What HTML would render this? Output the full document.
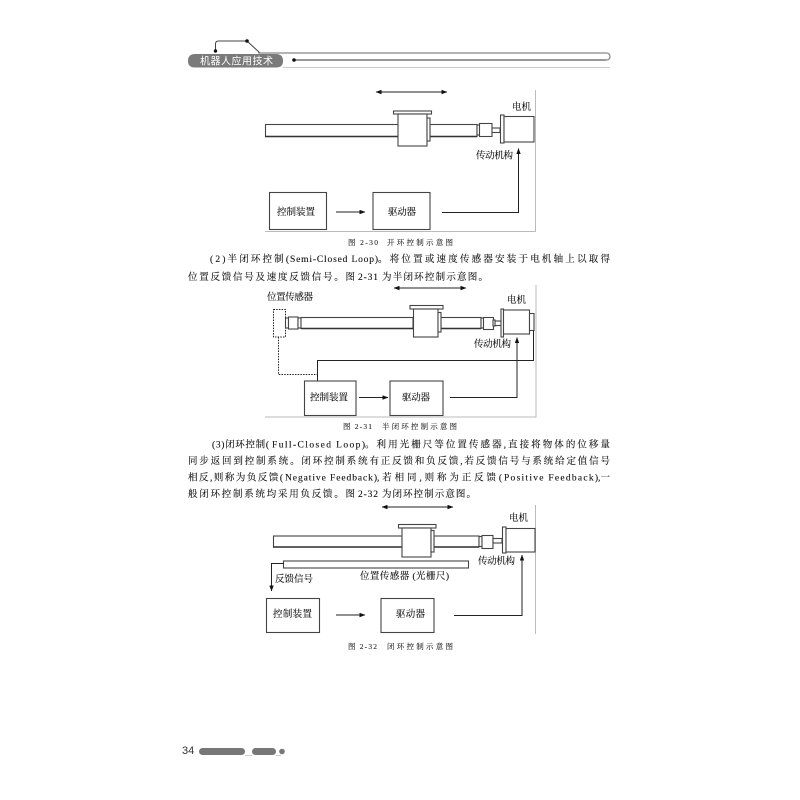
<!DOCTYPE html>
<html>
<head>
<meta charset="utf-8">
<style>
html,body{margin:0;padding:0;background:#fff;width:800px;height:800px;overflow:hidden}
svg{display:block;filter:blur(.35px)}
text{font-family:"Liberation Serif","Noto Serif CJK SC",serif;fill:#222}
.b{font-size:9.5px;fill:#111;stroke:#111;stroke-width:.12}
.c{font-size:7.5px;fill:#222;stroke:#222;stroke-width:.08}
.l{font-size:9.5px;fill:#111;stroke:#111;stroke-width:.12}
.s{fill:#fff;stroke:#444;stroke-width:1.1}
.e{stroke:#bbb;stroke-width:1;fill:none}
.n{fill:none;stroke:#222;stroke-width:1}
.d{fill:none;stroke:#222;stroke-width:1;stroke-dasharray:1.5 1.2}
.k{fill:none;stroke:#333;stroke-width:1.4}
</style>
</head>
<body>
<svg xmlns="http://www.w3.org/2000/svg" width="800" height="800" viewBox="0 0 800 800">
<defs>
<marker id="a" viewBox="0 0 8 6" refX="7.5" refY="3" markerWidth="6" markerHeight="4.5" orient="auto-start-reverse" markerUnits="userSpaceOnUse"><path d="M0 0L8 3L0 6Z" fill="#111"/></marker>
</defs>
<rect width="800" height="800" fill="#fff"/>

<!-- header -->
<path d="M215.5 51V44Q215.5 41 218.5 41H247L260 53" fill="none" stroke="#444" stroke-width="1"/>
<circle cx="215.5" cy="51" r="1.7" fill="#111"/>
<circle cx="247" cy="41" r="1.8" fill="#111"/>
<path d="M258 53H606Q610 53 610 56.5Q610 60 606 60" fill="none" stroke="#888" stroke-width="1.2"/>
<path d="M294 60H606" stroke="#333" stroke-width="1"/>
<circle cx="294" cy="60" r="1.8" fill="#111"/>
<path d="M283 67.5H610" stroke="#ccc" stroke-width="1"/>
<path d="M195 54H276Q283 54 283 61Q283 67.5 276 67.5H195Q188 67.5 188 61Q188 54 195 54Z" fill="#7a7a7a"/>
<text x="200" y="64.5" font-size="10" textLength="73" lengthAdjust="spacing" style="font-family:'Liberation Sans','Noto Sans CJK SC',sans-serif;fill:#fff">机器人应用技术</text>

<!-- diagram 2-30 -->
<path class="e" d="M535.5 90V231.5H265"/>
<path class="n" d="M376 92H447" marker-start="url(#a)" marker-end="url(#a)"/>
<rect class="s" x="265.5" y="124.5" width="133" height="12"/>
<rect class="s" x="430" y="124.5" width="47" height="12"/>
<path class="k" d="M265 136.5H398M430 136.5H477"/>
<rect class="s" x="393.5" y="111" width="38" height="3"/>
<rect class="s" x="398" y="114" width="29" height="32"/>
<rect class="s" x="427" y="118" width="3" height="23"/>
<rect class="s" x="477" y="125" width="2.5" height="10"/>
<rect class="s" x="479.5" y="123.5" width="12.5" height="13"/>
<rect class="s" x="492" y="128" width="8" height="4.5"/>
<rect class="s" x="500.5" y="115" width="3.5" height="28"/>
<rect class="s" x="504" y="116.5" width="30" height="25.5"/>
<text class="l" x="512" y="110" textLength="19">电机</text>
<text class="l" x="476" y="158.5" textLength="37">传动机构</text>
<rect class="s" x="269.5" y="192.5" width="57" height="37"/>
<rect class="s" x="373" y="192.5" width="57" height="37"/>
<text class="l" x="277" y="215" textLength="38">控制装置</text>
<text class="l" x="388" y="215" textLength="28">驱动器</text>
<path class="n" d="M336 212H365" marker-end="url(#a)"/>
<path class="n" d="M442 212.5H518.5V148.5" marker-end="url(#a)"/>
<text class="c" x="348" y="245" textLength="30">图 2-30</text>
<text class="c" x="387" y="245" textLength="66">开环控制示意图</text>

<!-- para 2 -->
<text class="b" x="210" y="262" textLength="79" lengthAdjust="spacing">(2)半闭环控制(</text>
<text class="b" x="290" y="262" textLength="88" lengthAdjust="spacing">Semi-Closed Loop)</text>
<text class="b" x="378" y="262" textLength="232" lengthAdjust="spacing">。将位置或速度传感器安装于电机轴上以取得</text>
<text class="b" x="188" y="280" textLength="167" lengthAdjust="spacing">位置反馈信号及速度反馈信号。图</text>
<text class="b" x="358" y="280" textLength="20" lengthAdjust="spacing">2-31</text>
<text class="b" x="382" y="280" textLength="106" lengthAdjust="spacing">为半闭环控制示意图。</text>

<!-- diagram 2-31 -->
<path class="e" d="M536 285V417H265"/>
<path class="n" d="M394 288H466" marker-start="url(#a)" marker-end="url(#a)"/>
<text class="l" x="267" y="300" textLength="46">位置传感器</text>
<text class="l" x="507" y="303" textLength="19">电机</text>
<rect class="d" x="273.5" y="309.5" width="12" height="27.5"/>
<rect class="s" x="285.5" y="318" width="3" height="10"/>
<rect class="s" x="288.5" y="317" width="9.5" height="12"/>
<rect class="s" x="298" y="318" width="3" height="10"/>
<rect class="s" x="301" y="317.5" width="112" height="11"/>
<rect class="s" x="441" y="317.5" width="40" height="11"/>
<path class="k" d="M301 328.5H413M441 328.5H481"/>
<rect class="s" x="410" y="305.5" width="33" height="3.5"/>
<rect class="s" x="413.5" y="309" width="24.5" height="28"/>
<rect class="s" x="438" y="312.5" width="3" height="19.5"/>
<rect class="s" x="481" y="318" width="2.5" height="10"/>
<rect class="s" x="483.5" y="317.5" width="10" height="12"/>
<rect class="s" x="495" y="321" width="6" height="4.5"/>
<rect class="s" x="493" y="320" width="2" height="6"/>
<rect class="s" x="501" y="309" width="2.5" height="28"/>
<rect class="s" x="503.5" y="310" width="26" height="24"/>
<rect class="s" x="529.5" y="313.5" width="4.5" height="17"/>
<text class="l" x="474" y="347" textLength="37">传动机构</text>
<path class="n" d="M317.5 381V360.5H533.5V330.5"/>
<path class="d" d="M278.5 337V374.5H318"/>
<rect class="s" x="304.5" y="381" width="51.5" height="34.5"/>
<rect class="s" x="390" y="381" width="53" height="34.5"/>
<text class="l" x="310" y="400.5" textLength="38">控制装置</text>
<text class="l" x="402" y="400.5" textLength="28">驱动器</text>
<path class="n" d="M359 397.5H388" marker-end="url(#a)"/>
<path class="n" d="M450 397.5H517V337.500" marker-end="url(#a)"/>
<text class="c" x="343" y="429" textLength="29">图 2-31</text>
<text class="c" x="382" y="429" textLength="75">半闭环控制示意图</text>

<!-- para 3 -->
<text class="b" x="212" y="447.5" textLength="57" lengthAdjust="spacing">(3)闭环控制(</text>
<text class="b" x="272" y="447.5" textLength="93" lengthAdjust="spacing">Full-Closed Loop)</text>
<text class="b" x="365" y="447.5" textLength="245" lengthAdjust="spacing">。利用光栅尺等位置传感器,直接将物体的位移量</text>
<text class="b" x="188" y="464" textLength="422" lengthAdjust="spacing">同步返回到控制系统。闭环控制系统有正反馈和负反馈,若反馈信号与系统给定值信号</text>
<text class="b" x="188" y="480.5" textLength="95" lengthAdjust="spacing">相反,则称为负反馈(</text>
<text class="b" x="285" y="480.5" textLength="92" lengthAdjust="spacing">Negative Feedback)</text>
<text class="b" x="377" y="480.5" textLength="125" lengthAdjust="spacing">,若相同,则称为正反馈(</text>
<text class="b" x="504" y="480.5" textLength="94" lengthAdjust="spacing">Positive Feedback)</text>
<text class="b" x="598" y="480.5" textLength="12" lengthAdjust="spacing">,一</text>
<text class="b" x="188" y="497" textLength="167" lengthAdjust="spacing">般闭环控制系统均采用负反馈。图</text>
<text class="b" x="358" y="497" textLength="20" lengthAdjust="spacing">2-32</text>
<text class="b" x="382" y="497" textLength="94" lengthAdjust="spacing">为闭环控制示意图。</text>

<!-- diagram 2-32 -->
<path class="e" d="M535.5 505V634"/>
<path class="n" d="M382 507H453" marker-start="url(#a)" marker-end="url(#a)"/>
<text class="l" x="509" y="521" textLength="19">电机</text>
<rect class="s" x="273.5" y="536" width="128.5" height="11"/>
<rect class="s" x="434" y="536" width="45" height="11"/>
<path class="k" d="M273 547H402M434 547H479"/>
<rect class="s" x="398.5" y="524.5" width="37.5" height="3.5"/>
<rect class="s" x="402" y="528" width="29" height="29"/>
<rect class="s" x="431" y="530.5" width="3" height="21.5"/>
<rect class="s" x="479" y="536.5" width="3" height="10"/>
<rect class="s" x="482" y="535.5" width="11" height="13"/>
<rect class="s" x="493" y="538.5" width="9" height="4.5"/>
<rect class="s" x="502.5" y="527" width="3.5" height="26"/>
<rect class="s" x="506" y="528.5" width="29" height="23.5"/>
<rect class="s" x="283.5" y="561" width="185" height="7"/>
<text class="l" x="360" y="579" textLength="89">位置传感器 (光栅尺)</text>
<text class="l" x="478" y="564" textLength="37">传动机构</text>
<path class="n" d="M284 563.5H271.5V591" marker-end="url(#a)"/>
<text class="l" x="275" y="582" textLength="38">反馈信号</text>
<rect class="s" x="266.5" y="598.5" width="53" height="34"/>
<rect class="s" x="381" y="598.5" width="53" height="34"/>
<text class="l" x="273" y="617" textLength="39">控制装置</text>
<text class="l" x="396" y="617" textLength="29">驱动器</text>
<path class="n" d="M336 615H365" marker-end="url(#a)"/>
<path class="n" d="M454 615.5H522V555" marker-end="url(#a)"/>
<text class="c" x="348" y="649" textLength="29">图 2-32</text>
<text class="c" x="387" y="649" textLength="66">闭环控制示意图</text>

<!-- footer -->
<text x="182" y="754" font-size="11" style="font-family:'Liberation Sans',sans-serif;fill:#333">34</text>
<path d="M245 755.5H252M276 755.5H281" stroke="#ccc" stroke-width="1"/>
<rect x="199" y="748" width="46" height="7" rx="3.5" fill="#777"/>
<rect x="252" y="748" width="24" height="7" rx="3.5" fill="#777"/>
<circle cx="282" cy="751.5" r="2.8" fill="#777"/>
</svg>
</body>
</html>
